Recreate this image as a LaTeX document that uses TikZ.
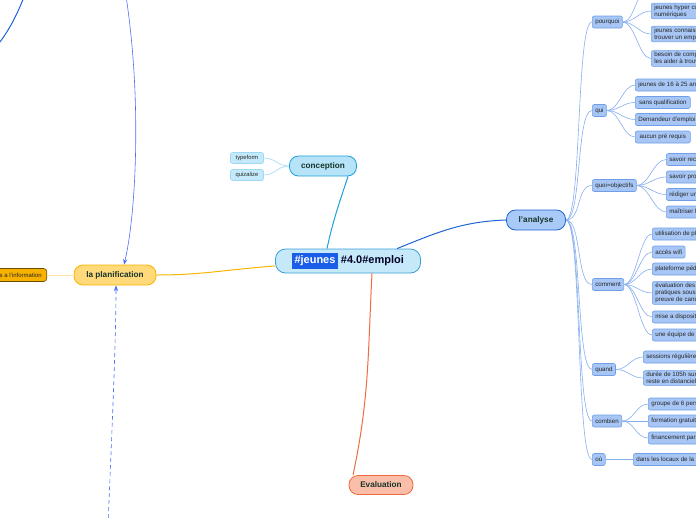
\documentclass[tikz,border=0pt]{standalone}
\usepackage{fontspec}
\setmainfont{Liberation Sans}
\usetikzlibrary{arrows.meta, positioning}
\definecolor{hubfill}{HTML}{C6E9FA}
\definecolor{hubline}{HTML}{3C9FD6}
\definecolor{tagblue}{HTML}{1A5EE8}
\definecolor{inktext}{HTML}{17352A}
\definecolor{cyanfill}{HTML}{B6E3F8}
\definecolor{cyanline}{HTML}{1CA0DC}
\definecolor{cyanpale}{HTML}{C4E9FA}
\definecolor{cyantwig}{HTML}{9FD8F2}
\definecolor{anafill}{HTML}{A9C9F7}
\definecolor{analine}{HTML}{1F64D0}
\definecolor{catfill}{HTML}{A7C6F5}
\definecolor{catline}{HTML}{6E9FE8}
\definecolor{twigblue}{HTML}{86AEEF}
\definecolor{planfill}{HTML}{FFD97A}
\definecolor{planline}{HTML}{F8B500}
\definecolor{infofill}{HTML}{F7B200}
\definecolor{infoline}{HTML}{6A4B00}
\definecolor{evalfill}{HTML}{FBBFA9}
\definecolor{evalline}{HTML}{F06A40}
\definecolor{relblue}{HTML}{4D6FF5}
\definecolor{deepblue}{HTML}{1E64D8}
\newcommand{\tagbox}[1]{{\setlength{\fboxsep}{2.4pt}\colorbox{tagblue}{\textcolor{white}{#1}}}}
\tikzset{
  >=Stealth,
  % sujets principaux
  topic/.style={rounded corners=9pt, line width=0.8pt, minimum height=20, inner sep=1,
    font=\fontsize{8.2}{9}\selectfont\bfseries, text=inktext},
  % sous-branches
  cat/.style={rounded corners=2pt, fill=catfill, draw=catline, line width=0.6pt,
    minimum height=12, inner xsep=3, inner ysep=1.5, font=\fontsize{6.2}{7}\selectfont,
    text=black!85, anchor=west},
  leaf/.style={cat, align=left},
  small tag/.style={rounded corners=2pt, fill=cyanpale, draw=cyantwig, line width=0.6pt,
    minimum height=11, minimum width=33, inner sep=1, font=\fontsize{5.8}{6}\selectfont, text=black!85},
  twig/.style={draw=twigblue, line width=0.6pt},
  rel/.style={->, relblue, line width=0.6pt},
}
\begin{document}
\begin{tikzpicture}[x=1pt, y=-1pt]
\useasboundingbox (0,0) rectangle (696,520);

% noeud central
\node[rounded corners=10pt, fill=hubfill, draw=hubline, line width=0.8pt,
  minimum width=145, minimum height=24, font=\fontsize{11}{12}\selectfont\bfseries,
  text=black!85!blue] (hub) at (348,261) {\tagbox{\#jeunes} \#4.0\#emploi};

\node[topic, fill=cyanfill, draw=cyanline, minimum width=67] (conception) at (323,166) {conception};
\node[topic, fill=anafill, draw=analine, minimum width=59] (analyse) at (536,220) {l'analyse};
\node[topic, fill=planfill, draw=planline, minimum width=82] (planif) at (115,275) {la planification};
\node[topic, fill=evalfill, draw=evalline, minimum width=64, minimum height=19] (evaluation) at (381,485) {Evaluation};

\draw[cyanline, line width=1pt] ([xshift=-21]hub.north) to[out=78,in=-108] ([xshift=25]conception.south);
\draw[analine, line width=1pt] ([xshift=49]hub.north) to[out=22,in=182] (analyse.west);
\draw[planline, line width=1pt] ([yshift=-5]hub.west) to[out=184,in=0] (planif.east);
\draw[evalline, line width=1pt] ([xshift=24]hub.south) to[out=-93,in=78] ([xshift=-28]evaluation.north);

% conception
\node[small tag] (typeform) at (247,158) {typeform};
\node[small tag] (quizalize) at (247,175) {quizalize};
\foreach \n in {typeform, quizalize}
  \draw[cyantwig, line width=0.6pt] (conception.west) .. controls +(-12,0) and +(12,0) .. (\n.east);

% planification
\node[rounded corners=3pt, fill=infofill, draw=infoline, line width=0.6pt, minimum height=13,
  inner xsep=5, font=\fontsize{6}{7}\selectfont, text=black!85, anchor=east] (info) at (47,275)
  {accès a l'information\hspace{4pt}};
\draw[planfill!70!white, line width=0.7pt] (planif.west) -- (info.east);

% relations
\coordinate (relA) at (126,-4);
\coordinate (relB) at (108,525);
\coordinate (edgeA) at (-4,47);
\coordinate (edgeB) at (24,-3);
\draw[deepblue, line width=1pt] (edgeA) .. controls (10,30) and (18,12) .. (edgeB);
\draw[rel] (relA) .. controls (142,100) and (136,215) .. ([xshift=9]planif.north);
\draw[rel, dash pattern=on 4pt off 3pt] (relB) .. controls (112,430) and (116,340) .. ([xshift=1]planif.south);

% l'analyse
\node[cat] (pourquoi) at (592,22) {pourquoi};
\node[cat] (qui) at (592,110.5) {qui};
\node[cat] (quoi) at (592,185.5) {quoi=objectifs};
\node[cat] (comment) at (592,284.5) {comment};
\node[cat] (quand) at (592,369.5) {quand};
\node[cat] (combien) at (592,421) {combien};
\node[cat] (ou) at (592,459.5) {où};
\foreach \c in {pourquoi, qui, quoi, comment, quand, combien, ou}
  \draw[twig] (analyse.east) .. controls +(16,0) and +(-16,0) .. (\c.west);

\coordinate (pourquoi0) at (648,-10);
\draw[twig] (pourquoi.east) .. controls +(12,0) and +(-12,0) .. (pourquoi0);
\foreach \ypos/\txt [count=\i] in {
  11/{jeunes hyper connectés aux outils\\numériques},
  34/{jeunes connaissant peu les codes pour\\trouver un emploi},
  58.5/{besoin de compétences pour\\les aider à trouver un emploi}} {
  \node[leaf] (pourquoi\i) at (651,\ypos) {\txt};
  \draw[twig] (pourquoi.east) .. controls +(12,0) and +(-12,0) .. (pourquoi\i.west);
}

\foreach \ypos/\txt [count=\i] in {
  85/{jeunes de 16 à 25 ans}, 102.5/{sans qualification},
  119.5/{Demandeur d'emploi longue durée}, 137/{aucun pré requis}} {
  \node[leaf, minimum width=55] (qui\i) at (635,\ypos) {\txt};
  \draw[twig] (qui.east) .. controls +(12,0) and +(-12,0) .. (qui\i.west);
}

\foreach \ypos/\txt [count=\i] in {
  159.5/{savoir rechercher un emploi}, 177/{savoir promouvoir ses compétences},
  194.5/{rédiger un CV}, 212/{maîtriser les outils numériques}} {
  \node[leaf] (quoi\i) at (666,\ypos) {\txt};
  \draw[twig] (quoi.east) .. controls +(12,0) and +(-12,0) .. (quoi\i.west);
}

\foreach \ypos/\txt [count=\i] in {
  234/{utilisation de plateformes}, 252/{accès wifi},
  269/{plateforme pédagogique},
  293/{évaluation des\\pratiques sous forme de\\preuve de candidature},
  317/{mise a disposition de matériel}, 335/{une équipe de formateurs}} {
  \node[leaf] (comment\i) at (652,\ypos) {\txt};
  \draw[twig] (comment.east) .. controls +(12,0) and +(-12,0) .. (comment\i.west);
}

\foreach \ypos/\txt [count=\i] in {
  357/{sessions régulières de formation},
  378/{durée de 105h sur 3 mois dont le\\reste en distanciel}} {
  \node[leaf] (quand\i) at (643,\ypos) {\txt};
  \draw[twig] (quand.east) .. controls +(12,0) and +(-12,0) .. (quand\i.west);
}

\foreach \ypos/\txt [count=\i] in {
  404/{groupe de 6 personnes}, 421/{formation gratuite},
  438/{financement par la région}} {
  \node[leaf] (combien\i) at (648,\ypos) {\txt};
  \draw[twig] (combien.east) .. controls +(12,0) and +(-12,0) .. (combien\i.west);
}

\node[leaf] (ou1) at (633,459.5) {dans les locaux de la mission locale};
\draw[twig] (ou.east) -- (ou1.west);
\end{tikzpicture}
\end{document}
